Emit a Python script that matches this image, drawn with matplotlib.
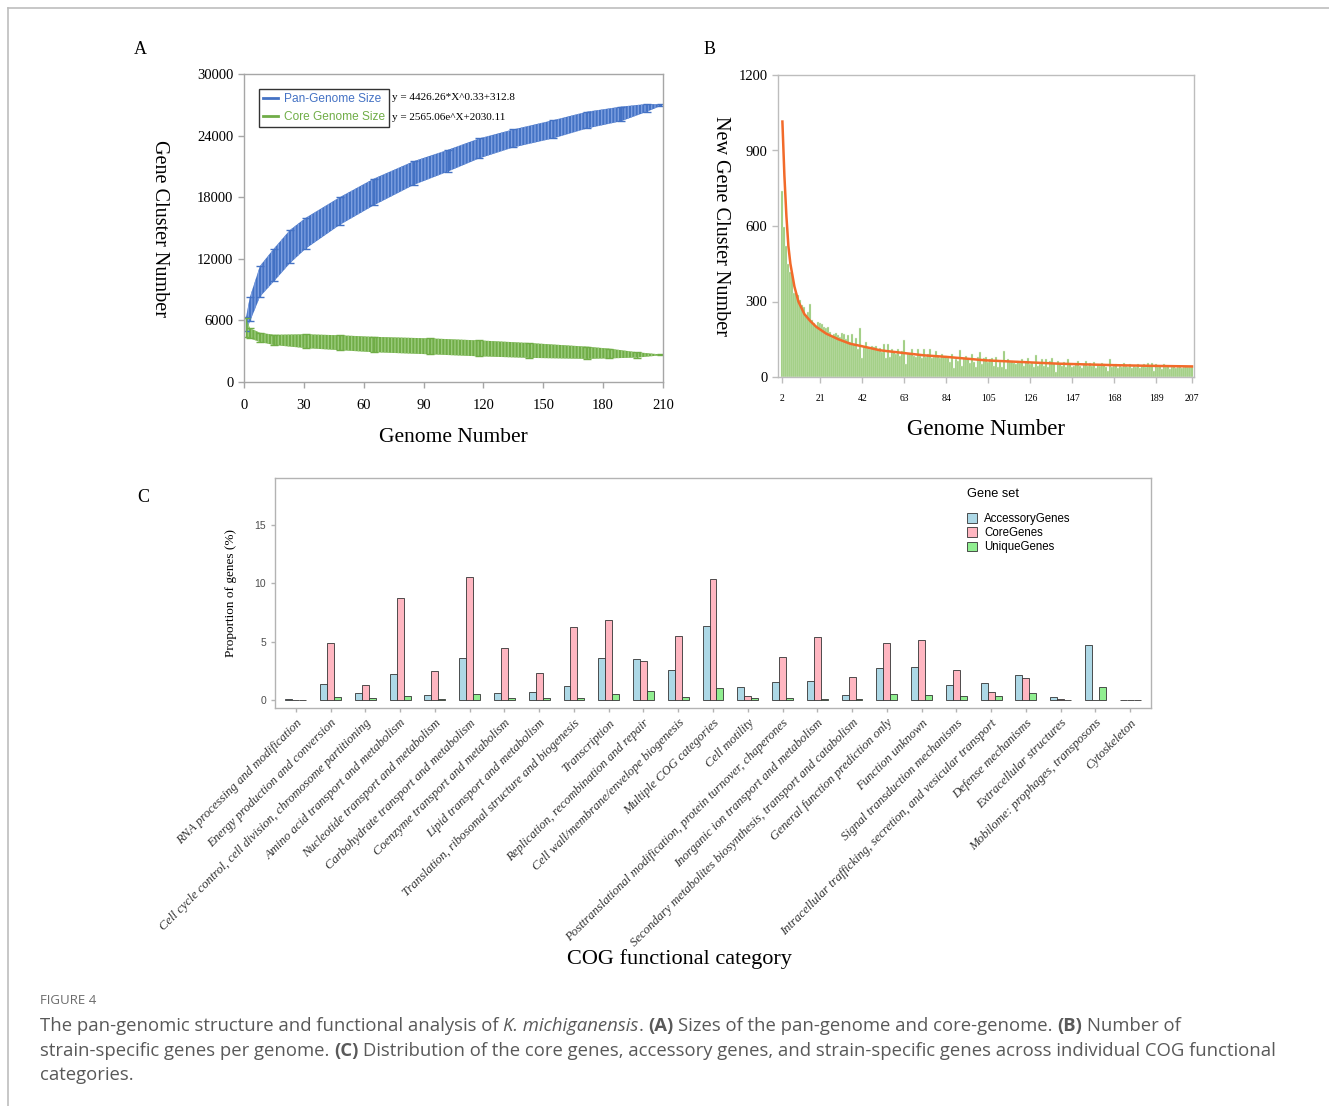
import matplotlib
matplotlib.use("Agg")
import matplotlib.pyplot as plt
from matplotlib.lines import Line2D
from matplotlib.patches import Patch
import numpy as np

# ---- panel A: pan / core genome size ----
pan_x = [1, 3, 8, 15, 23, 31, 48, 65, 85, 102, 118, 135, 155, 172, 189, 202, 209]
pan_low = [5000, 5900, 8300, 9800, 11560, 13000, 15300, 17200, 19190, 20480, 21790, 22850, 23730, 24700, 25400, 26330, 26900]
pan_high = [6300, 8300, 11300, 13000, 14800, 16000, 18000, 19800, 21500, 22600, 23730, 24600, 25500, 26330, 26820, 27080, 27050]

core_x = [1, 3, 8, 15, 31, 48, 65, 93, 118, 143, 172, 183, 197, 209]
core_low = [4400, 4250, 3900, 3600, 3300, 3100, 2900, 2700, 2500, 2350, 2250, 2300, 2380, 2600]
core_high = [6200, 5230, 4800, 4600, 4650, 4550, 4400, 4250, 4050, 3800, 3440, 3250, 2900, 2680]

# ---- panel B: new gene clusters per added genome (2..207) ----
new_genes = [
    740, 597, 522, 448, 417, 410, 335, 335, 325, 306, 286, 280, 247, 260, 290, 227, 214, 201, 220,
    214, 210, 200, 195, 200, 180, 160, 170, 175, 165,
    160, 175, 170, 150, 165, 140, 170, 130, 155, 110, 195,
    75,
    120, 140, 115, 110, 125, 120, 125, 110,
    115, 100, 130, 75, 130, 80, 110, 100, 90, 110, 85, 105,
    148, 53,
    90, 95, 113, 85, 80, 110, 85, 75, 110, 80, 90, 110, 75, 80, 102, 85,
    75, 90, 80, 85, 75, 60, 93, 36, 70, 65, 109, 44, 75, 85, 70, 55, 93, 60, 40, 80,
    100, 50, 75, 80, 60, 70, 75, 45, 80, 40, 60, 40, 102, 33, 70, 60, 65, 55, 50, 65,
    55, 70, 45, 60, 77, 50, 55, 40, 86, 45, 50, 70, 45, 70, 40, 65, 75, 55, 20, 65,
    50, 45, 60, 40, 70, 50, 40, 45, 55, 65, 45, 35, 50, 65, 45, 55, 45, 60, 35, 50,
    45, 55, 50, 40, 25, 70, 40, 45, 50, 35, 45, 40, 55, 45, 40, 50, 35, 45, 40, 50,
    35, 45, 50, 40, 55, 45, 55, 25, 50, 40, 45, 30, 50, 40, 45, 30, 40, 45, 35, 40,
    45, 35, 40, 45, 40, 38, 40,
]
genome_b = list(range(2, 208))
curve_x = [2, 3, 4, 5, 6, 8, 10, 13, 16, 19, 24, 30, 36, 42, 51, 63, 73, 84, 104, 126, 140, 168, 189, 207]
curve_y = [1015, 800, 640, 520, 450, 360, 300, 250, 222, 199, 172, 150, 132, 122, 106, 95, 86, 80, 66, 58, 53, 47, 44, 42]
b_ticks = [2, 21, 42, 63, 84, 105, 126, 147, 168, 189, 207]

# ---- panel C: COG categories ----
cog_cats = [
    "RNA processing and modification",
    "Energy production and conversion",
    "Cell cycle control, cell division, chromosome partitioning",
    "Amino acid transport and metabolism",
    "Nucleotide transport and metabolism",
    "Carbohydrate transport and metabolism",
    "Coenzyme transport and metabolism",
    "Lipid transport and metabolism",
    "Translation, ribosomal structure and biogenesis",
    "Transcription",
    "Replication, recombination and repair",
    "Cell wall/membrane/envelope biogenesis",
    "Multiple COG categories",
    "Cell motility",
    "Posttranslational modification, protein turnover, chaperones",
    "Inorganic ion transport and metabolism",
    "Secondary metabolites biosynthesis, transport and catabolism",
    "General function prediction only",
    "Function unknown",
    "Signal transduction mechanisms",
    "Intracellular trafficking, secretion, and vesicular transport",
    "Defense mechanisms",
    "Extracellular structures",
    "Mobilome: prophages, transposons",
    "Cytoskeleton",
]
accessory = [0.05, 1.34, 0.6, 2.2, 0.43, 3.63, 0.63, 0.69, 1.17, 3.57, 3.49, 2.54, 6.31,
             1.09, 1.51, 1.6, 0.46, 2.71, 2.8, 1.26, 1.43, 2.14, 0.29, 4.71, 0.03]
core = [0.03, 4.91, 1.29, 8.71, 2.51, 10.51, 4.46, 2.29, 6.29, 6.83, 3.31, 5.51, 10.4,
        0.34, 3.71, 5.37, 1.94, 4.86, 5.14, 2.54, 0.71, 1.89, 0.09, 0.0, 0.03]
unique = [0.0, 0.23, 0.2, 0.37, 0.09, 0.49, 0.17, 0.17, 0.17, 0.49, 0.8, 0.29, 1.0,
          0.14, 0.2, 0.11, 0.06, 0.49, 0.43, 0.31, 0.31, 0.57, 0.03, 1.09, 0.03]

SERIF = "Liberation Serif"
SANS = "Liberation Sans"
BLUE = "#4472C4"
GREEN = "#70AD47"
W, H = 1329, 1106

fig = plt.figure(figsize=(W / 100, H / 100), dpi=100)


def box(l, r, t, b):
    return [l / W, 1 - b / H, (r - l) / W, (b - t) / H]


def style_spines(ax, color="#a6a6a6"):
    for s in ax.spines.values():
        s.set_color(color)
        s.set_linewidth(1.0)
    ax.tick_params(colors=color, direction="out", length=4, width=1)


# frame of the figure
fig.add_artist(Line2D([8 / W, 1], [1 - 8 / H, 1 - 8 / H], color="#bdbdbd", lw=1.2))
fig.add_artist(Line2D([8 / W, 8 / W], [0, 1 - 8 / H], color="#bdbdbd", lw=1.2))

# ================= A =================
axA = fig.add_axes(box(244, 663, 74, 382))
axA.fill_between(pan_x, pan_low, pan_high, facecolor=BLUE, edgecolor="#7d9fe0",
                 hatch="|||||", linewidth=0)
axA.fill_between(core_x, core_low, core_high, facecolor=GREEN, edgecolor="#9acb7c",
                 hatch="|||||", linewidth=0)
pm = (np.array(pan_low) + np.array(pan_high)) / 2
axA.errorbar(pan_x, pm, yerr=[pm - np.array(pan_low), np.array(pan_high) - pm],
             fmt="none", ecolor=BLUE, elinewidth=1, capsize=3)
cm = (np.array(core_low) + np.array(core_high)) / 2
axA.errorbar(core_x, cm, yerr=[cm - np.array(core_low), np.array(core_high) - cm],
             fmt="none", ecolor=GREEN, elinewidth=1, capsize=3)
axA.set_xlim(0, 210)
axA.set_ylim(0, 30000)
axA.set_xticks(range(0, 211, 30))
axA.set_yticks(range(0, 30001, 6000))
style_spines(axA)
axA.tick_params(axis="x", pad=8)
for lab in axA.get_xticklabels() + axA.get_yticklabels():
    lab.set_fontfamily(SERIF)
    lab.set_fontsize(10.5)
    lab.set_color("black")
axA.set_xlabel("Genome Number", fontfamily=SERIF, fontsize=15.5, labelpad=12)
axA.set_ylabel("Gene Cluster Number", fontfamily=SERIF, fontsize=14.5, rotation=270,
               va="bottom")
axA.yaxis.set_label_coords(-0.225, 0.5)
hA = [Line2D([], [], color=BLUE, lw=2), Line2D([], [], color=GREEN, lw=2)]
legA = axA.legend(hA, ["Pan-Genome Size", "Core Genome Size"], loc="upper left",
                  bbox_to_anchor=(0.036, 0.952), borderaxespad=0, fancybox=False,
                  edgecolor="#333333", framealpha=1, handlelength=1.2, handletextpad=0.5,
                  labelspacing=0.5, borderpad=0.35, prop={"family": SANS, "size": 8.6},
                  labelcolor="linecolor")
legA.get_frame().set_linewidth(1.0)
axA.text(392 / W, 1 - 97 / H, "y = 4426.26*X^0.33+312.8", transform=fig.transFigure,
         fontfamily=SERIF, fontsize=8, va="center")
axA.text(392 / W, 1 - 118 / H, "y = 2565.06e^X+2030.11", transform=fig.transFigure,
         fontfamily=SERIF, fontsize=8, va="center")
fig.text(140 / W, 1 - 50 / H, "A", fontfamily=SERIF, fontsize=13, ha="center", va="center")

# ================= B =================
axB = fig.add_axes(box(778, 1194, 75, 377))
axB.bar(genome_b, new_genes, width=1.0, color="#94c873", edgecolor="#e4f1db",
        linewidth=0.3)
axB.plot(curve_x, curve_y, color="#F26A2A", lw=1.8)
axB.set_xlim(-0.2, 208)
axB.set_ylim(0, 1200)
axB.set_yticks(range(0, 1201, 300))
axB.set_xticks(b_ticks)
style_spines(axB, "#bdbdbd")
axB.tick_params(axis="x", pad=8)
for lab in axB.get_yticklabels():
    lab.set_fontfamily(SERIF)
    lab.set_fontsize(10.5)
    lab.set_color("black")
for lab in axB.get_xticklabels():
    lab.set_fontfamily(SERIF)
    lab.set_fontsize(7)
    lab.set_color("black")
axB.set_xlabel("Genome Number", fontfamily=SERIF, fontsize=16.5, labelpad=12)
axB.set_ylabel("New Gene Cluster Number", fontfamily=SERIF, fontsize=14.5, rotation=270,
               va="bottom")
axB.yaxis.set_label_coords(-0.162, 0.5)
fig.text(710 / W, 1 - 50 / H, "B", fontfamily=SERIF, fontsize=13, ha="center", va="center")

# ================= C =================
axC = fig.add_axes(box(275, 1151, 478, 708))
xc = np.arange(1, len(cog_cats) + 1)
bw = 0.2
axC.bar(xc - bw, accessory, width=bw, color="#ADD8E6", edgecolor="#333333", linewidth=0.6)
axC.bar(xc, core, width=bw, color="#FFB6C1", edgecolor="#333333", linewidth=0.6)
axC.bar(xc + bw, unique, width=bw, color="#90EE90", edgecolor="#333333", linewidth=0.6)
axC.set_xlim(0.4, len(cog_cats) + 0.6)
axC.set_ylim(-0.69, 19.03)
axC.set_yticks([0, 5, 10, 15])
axC.set_xticks(xc)
axC.set_xticklabels(cog_cats, rotation=45, ha="right", va="top", rotation_mode="anchor",
                    fontfamily=SERIF, fontstyle="italic", fontsize=9.2, color="#333333")
style_spines(axC, "#b3b3b3")
axC.tick_params(axis="both", length=3, colors="#b3b3b3")
for lab in axC.get_yticklabels():
    lab.set_fontfamily(SANS)
    lab.set_fontsize(7.5)
    lab.set_color("#4d4d4d")
for lab in axC.get_xticklabels():
    lab.set_color("#333333")
axC.set_ylabel("Proportion of genes (%)", fontfamily=SERIF, fontsize=9.5)
axC.yaxis.set_label_coords(-0.043, 0.5)
fig.text(679 / W, 1 - 959 / H, "COG functional category", fontfamily=SERIF, fontsize=16,
         ha="center", va="center")
hC = [Patch(facecolor=c, edgecolor="#333333", linewidth=0.6)
      for c in ("#ADD8E6", "#FFB6C1", "#90EE90")]
legC = axC.legend(hC, ["AccessoryGenes", "CoreGenes", "UniqueGenes"], title="Gene set",
                  loc="upper left", bbox_to_anchor=(0.778, 1.0), frameon=False,
                  alignment="left", handlelength=0.9, handleheight=0.9, handletextpad=0.6,
                  labelspacing=0.2, prop={"family": SANS, "size": 8.3},
                  title_fontproperties={"family": SANS, "size": 9.2})
legC._legend_box.sep = 9
fig.text(143 / W, 1 - 497 / H, "C", fontfamily=SERIF, fontsize=13, ha="center", va="center")

# ================= caption =================
CAP = "Open Sans"
cap_color = "#595959"
fig.text(40 / W, 1 - 1001 / H, "FIGURE 4", fontfamily=CAP, fontsize=9.5, color="#6b6b6b",
         va="center")

renderer = fig.canvas.get_renderer()


def text_width(s, **kw):
    t = fig.text(0, 0, s, **kw)
    w = t.get_window_extent(renderer).width
    t.remove()
    return w


def runs_line(x_px, y_px, runs, size):
    base = dict(fontfamily=CAP, fontsize=size, color=cap_color)
    space = text_width("a a", **base) - text_width("aa", **base)
    x = x_px
    for txt, style, weight in runs:
        lead = len(txt) - len(txt.lstrip(" "))
        trail = len(txt) - len(txt.rstrip(" "))
        x += lead * space
        core_txt = txt.strip(" ")
        t = fig.text(x / W, 1 - y_px / H, core_txt, fontstyle=style, fontweight=weight,
                     va="center", **base)
        x += t.get_window_extent(renderer).width + trail * space


cap_size = 13.3
runs_line(40, 1026, [
    ("The pan-genomic structure and functional analysis of ", "normal", "normal"),
    ("K. michiganensis", "italic", "normal"),
    (". ", "normal", "normal"),
    ("(A)", "normal", "bold"),
    (" Sizes of the pan-genome and core-genome. ", "normal", "normal"),
    ("(B)", "normal", "bold"),
    (" Number of", "normal", "normal"),
], cap_size)
runs_line(40, 1051, [
    ("strain-specific genes per genome. ", "normal", "normal"),
    ("(C)", "normal", "bold"),
    (" Distribution of the core genes, accessory genes, and strain-specific genes across individual COG functional",
     "normal", "normal"),
], cap_size)
runs_line(40, 1075, [("categories.", "normal", "normal")], cap_size)

fig.savefig("out.png", dpi=100)
